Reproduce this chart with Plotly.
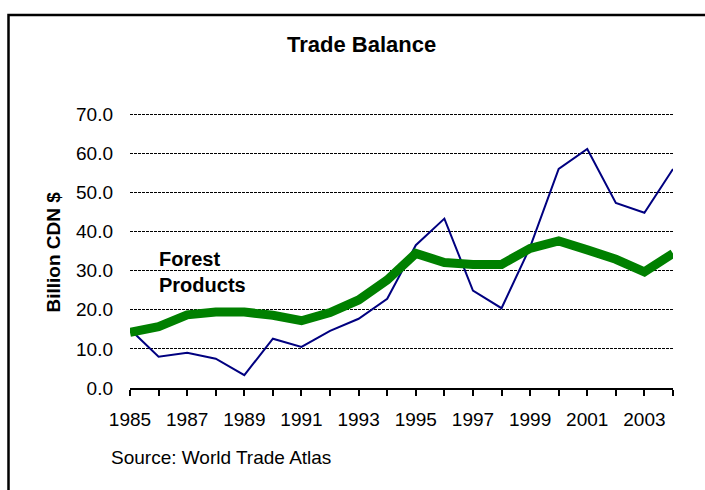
import plotly.graph_objects as go

years = list(range(1985, 2005))
total_balance = [15.0, 8.0, 9.0, 7.5, 3.3, 12.6, 10.5, 14.6, 17.7, 22.8,
                 36.5, 43.3, 24.9, 20.4, 36.0, 56.0, 61.1, 47.3, 44.8, 56.0]
forest_products = [14.2, 15.7, 18.7, 19.4, 19.4, 18.6, 17.2, 19.3, 22.5, 27.6,
                   34.4, 32.1, 31.6, 31.6, 35.7, 37.6, 35.3, 32.9, 29.7, 34.4]
y_ticks = [0, 10, 20, 30, 40, 50, 60, 70]
x_tick_labels = [str(y) if y % 2 == 1 else "" for y in years]

W, H = 705, 490
L, R, T, B = 130, 32, 113, 102
pw, ph = W - L - R, H - T - B

def px(x):
    return (x - L) / pw

def py(y):
    return (H - B - y) / ph

font = "Liberation Sans, Arial, sans-serif"

fig = go.Figure()
fig.add_trace(go.Scatter(x=years, y=total_balance, mode="lines",
                         line=dict(color="#000080", width=2), showlegend=False))
fig.add_trace(go.Scatter(x=years, y=forest_products, mode="lines",
                         line=dict(color="#008000", width=9), showlegend=False))

fig.update_layout(
    width=W, height=H,
    margin=dict(l=L, r=R, t=T, b=B, pad=0),
    paper_bgcolor="white", plot_bgcolor="white",
    font=dict(family=font, size=19, color="black"),
    xaxis=dict(range=[1985, 2004], tickmode="array", tickvals=years,
               ticktext=x_tick_labels, ticks="outside", ticklen=6,
               tickwidth=1.5, tickcolor="black", showline=True,
               linecolor="black", linewidth=1.5, showgrid=False,
               zeroline=False, ticklabelstandoff=7,
               tickfont=dict(size=19)),
    yaxis=dict(range=[0, 70.3], tickmode="array", tickvals=y_ticks,
               tickformat=".1f", showgrid=True, gridcolor="black",
               gridwidth=1, griddash="3px,1px", zeroline=False,
               showline=False, ticks="", ticklabelstandoff=16,
               tickfont=dict(size=19)),
)

annotations = [
    dict(text="<b>Trade Balance</b>", x=px(361.5), y=py(45), xanchor="center",
         yanchor="middle", font=dict(size=22)),
    dict(text="<b>Billion CDN $</b>", x=px(53), y=py(252.5), xanchor="center",
         yanchor="middle", textangle=-90, font=dict(size=19)),
    dict(text="<b>Forest</b>", x=px(157), y=py(259), xanchor="left",
         yanchor="middle", font=dict(size=20)),
    dict(text="<b>Products</b>", x=px(157), y=py(285), xanchor="left",
         yanchor="middle", font=dict(size=20)),
    dict(text="Source: World Trade Atlas", x=px(109), y=py(458), xanchor="left",
         yanchor="middle", font=dict(size=19)),
]
for a in annotations:
    a.update(xref="paper", yref="paper", showarrow=False)
fig.update_layout(annotations=annotations)

fig.add_shape(type="rect", xref="paper", yref="paper",
              x0=px(8.5), x1=px(760), y0=py(15), y1=py(560),
              line=dict(color="black", width=2.5), fillcolor="rgba(0,0,0,0)",
              layer="above")

fig.write_html("out.html")
